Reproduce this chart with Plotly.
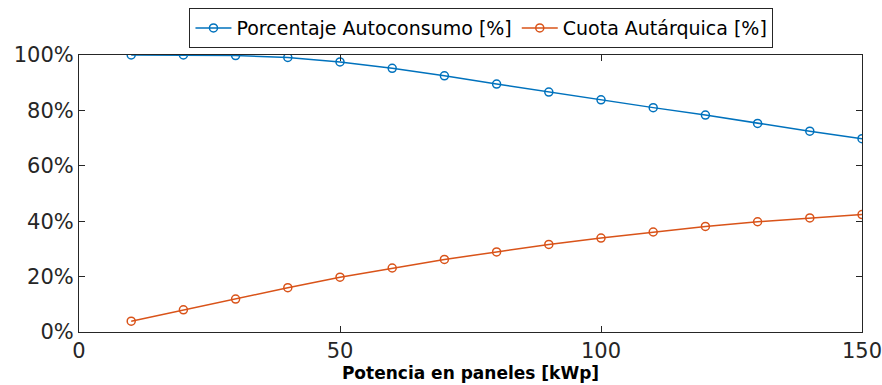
import plotly.graph_objects as go

potencia = [10, 20, 30, 40, 50, 60, 70, 80, 90, 100, 110, 120, 130, 140, 150]
autoconsumo = [100.0, 100.0, 99.8, 99.1, 97.5, 95.2, 92.5, 89.5, 86.6, 83.8, 81.0, 78.3, 75.3, 72.5, 69.8]
autarquica = [3.9, 8.0, 11.9, 16.0, 19.8, 23.1, 26.2, 28.9, 31.6, 33.9, 36.1, 38.1, 39.8, 41.2, 42.4]

y_ticks = [0, 20, 40, 60, 80, 100]
y_labels = [f"{v}%" for v in y_ticks]
x_ticks = [0, 50, 100, 150]

FONT = "DejaVu Sans, Arial, sans-serif"

fig = go.Figure()
fig.add_trace(go.Scatter(
    x=potencia, y=autoconsumo, mode="lines+markers",
    name="Porcentaje Autoconsumo [%]",
    line=dict(color="#0072BD", width=1.5),
    marker=dict(symbol="circle-open", size=8, color="#0072BD", line=dict(width=1.5)),
))
fig.add_trace(go.Scatter(
    x=potencia, y=autarquica, mode="lines+markers",
    name="Cuota Autárquica [%]",
    line=dict(color="#D95319", width=1.5),
    marker=dict(symbol="circle-open", size=8, color="#D95319", line=dict(width=1.5)),
))

fig.update_layout(
    width=882, height=383,
    margin=dict(l=79, r=20, t=55, b=51, autoexpand=False),
    paper_bgcolor="white", plot_bgcolor="white",
    font=dict(family=FONT, color="#262626"),
    legend=dict(
        orientation="h", x=0.514, xanchor="center",
        y=0.979, yanchor="top", yref="container",
        bordercolor="#262626", borderwidth=1, bgcolor="white",
        font=dict(size=19, family=FONT, color="#000000"),
        itemwidth=36, tracegroupgap=0,
    ),
    showlegend=True,
)

fig.update_xaxes(
    range=[0, 150], tickvals=x_ticks, ticks="inside", ticklen=6,
    tickcolor="#262626", linecolor="#262626", linewidth=1, mirror="ticks",
    showline=True, showgrid=False, zeroline=False, automargin=False,
    ticklabeloverflow="allow",
    tickfont=dict(size=21, family=FONT, color="#262626"),
    title=dict(text="<b>Potencia en paneles [kWp]</b>", font=dict(size=17, family=FONT, color="#000000"), standoff=2),
)
fig.update_yaxes(
    range=[0, 100], tickvals=y_ticks, ticktext=y_labels, ticks="inside", ticklen=6,
    tickcolor="#262626", linecolor="#262626", linewidth=1, mirror="ticks",
    showline=True, showgrid=False, zeroline=False, automargin=False,
    ticklabeloverflow="allow",
    tickfont=dict(size=21, family=FONT, color="#262626"),
)

fig.write_html(
    "out.html",
    config={"displayModeBar": False},
    post_script="document.body.style.margin='0';document.body.style.overflow='hidden';",
)
